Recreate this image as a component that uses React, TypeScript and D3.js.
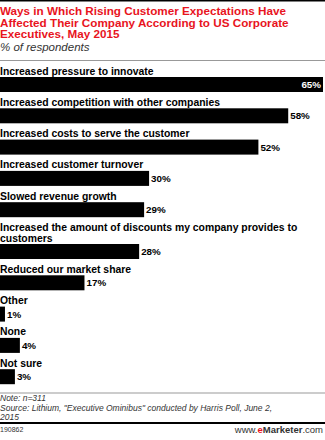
import React from "react";
import * as d3 from "d3";

const titleLines = [
  "Ways in Which Rising Customer Expectations Have",
  "Affected Their Company According to US Corporate",
  "Executives, May 2015",
];
const subtitle = "% of respondents";
const categories: string[][] = [
  ["Increased pressure to innovate"],
  ["Increased competition with other companies"],
  ["Increased costs to serve the customer"],
  ["Increased customer turnover"],
  ["Slowed revenue growth"],
  ["Increased the amount of discounts my company provides to", "customers"],
  ["Reduced our market share"],
  ["Other"],
  ["None"],
  ["Not sure"],
];
const values = [65, 58, 52, 30, 29, 28, 17, 1, 4, 3];
const noteLines = [
  "Note: n=311",
  "Source: Lithium, \"Executive Ominibus\" conducted by Harris Poll, June 2,",
  "2015",
];
const chartId = "190862";

export default function App() {
  const W = 325;
  const H = 440;
  const x = d3.scaleLinear().domain([0, 65]).range([0, 323]);
  const rowPitch = 31.3;
  const extraLine = 10.5;
  const barH = 15;
  const tops: number[] = [];
  let y = 77;
  categories.forEach((c, i) => {
    if (i > 0) y += rowPitch + (c.length - 1) * extraLine;
    tops.push(y);
  });
  const font = "'Liberation Sans', Arial, sans-serif";
  return (
    <div style={{ position: "fixed", left: 0, top: 0, width: W, height: H, background: "#fff" }}>
      <svg width={W} height={H} style={{ display: "block" }} fontFamily={font}>
        <rect x={0} y={0} width={W} height={H} fill="#fff" />
        <rect x={0} y={0} width={W} height={1.5} fill="#000" />
        {titleLines.map((t, i) => (
          <text key={i} x={0} y={15 + i * 11.7} fontSize={11.7} fontWeight="bold" fill="#e8141e">
            {t}
          </text>
        ))}
        <text x={0} y={51} fontSize={11.5} fontStyle="italic" fill="#333">
          {subtitle}
        </text>
        <rect x={0} y={60} width={W} height={1} fill="#999" />
        {categories.map((c, i) => {
          const top = tops[i];
          const v = values[i];
          const w = x(v);
          const inside = i === 0;
          return (
            <g key={i}>
              {c.map((line, j) => (
                <text
                  key={j}
                  x={0}
                  y={top - 2.5 - (c.length - 1 - j) * extraLine}
                  fontSize={10.4}
                  fontWeight="bold"
                  fill="#000"
                >
                  {line}
                </text>
              ))}
              <rect x={0} y={top} width={w} height={barH} fill="#000" />
              <text
                x={inside ? w - 2 : w + 2}
                y={top + 11}
                fontSize={9.8}
                fontWeight="bold"
                textAnchor={inside ? "end" : "start"}
                fill={inside ? "#fff" : "#000"}
              >
                {v}%
              </text>
            </g>
          );
        })}
        <rect x={0} y={392.5} width={W} height={1} fill="#999" />
        {noteLines.map((t, i) => (
          <text key={i} x={0} y={401.2 + i * 9.5} fontSize={8.5} fontStyle="italic" fill="#333">
            {t}
          </text>
        ))}
        <rect x={0} y={422} width={W} height={2} fill="#000" />
        <text x={0} y={432} fontSize={7} fill="#333">
          {chartId}
        </text>
        <text x={323} y={433} fontSize={9.5} textAnchor="end" fill="#333">
          www.<tspan fill="#e8141e" fontWeight="bold">e</tspan>
          <tspan fontWeight="bold" fill="#333">Marketer</tspan>.com
        </text>
      </svg>
    </div>
  );
}
